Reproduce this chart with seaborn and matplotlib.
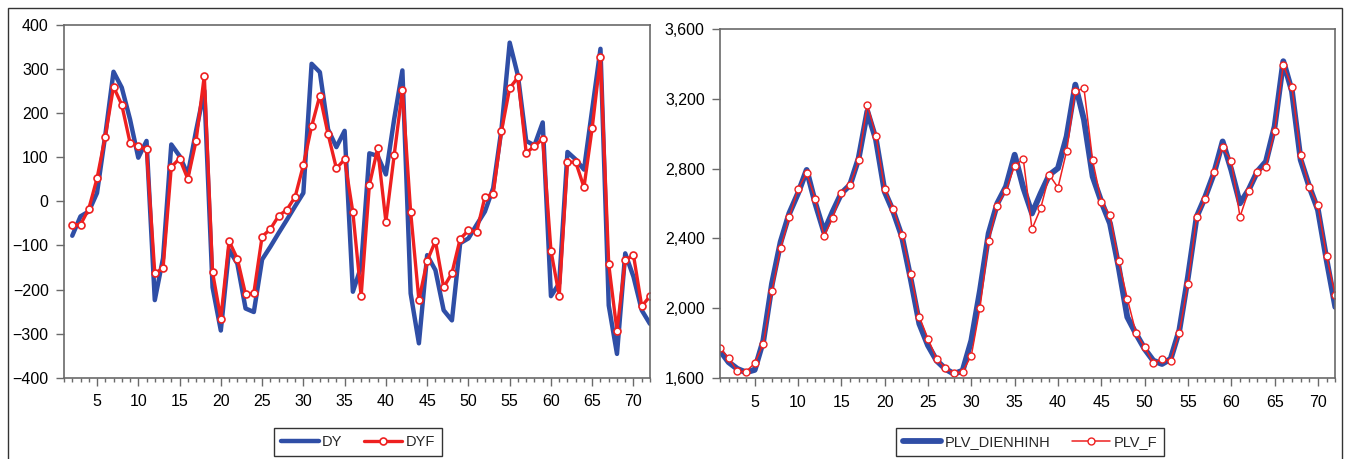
# Two-panel forecast comparison: DY vs DYF and PLV_DIENHINH vs PLV_F

import matplotlib
matplotlib.use("Agg")
import matplotlib.pyplot as plt
import matplotlib.ticker as mticker
from matplotlib.patches import Rectangle
import pandas as pd
import seaborn as sns

# Left panel data (observations 2..72)
obs_dy = list(range(2, 73))
dy = [-78, -34, -23, 19, 150, 294, 258, 186, 99, 137,
      -224, -129, 129, 103, 61, 160, 251, -195, -293, -110,
      -141, -243, -251, -132, -103, -72, -42, -11, 19, 312,
      293, 163, 123, 160, -205, -148, 109, 103, 61, 186,
      297, -209, -322, -122, -156, -247, -270, -95, -84, -53,
      -23, 30, 163, 360, 285, 137, 127, 179, -215, -186,
      112, 95, 72, 209, 346, -236, -346, -118, -171, -247,
      -278]
dyf = [-53, -53, -17, 52, 147, 260, 219, 133, 125, 118,
       -163, -152, 78, 97, 51, 137, 285, -161, -266, -90,
       -130, -211, -208, -80, -63, -33, -19, 10, 82, 170,
       240, 152, 75, 95, -25, -215, 37, 120, -46, 104,
       252, -24, -224, -135, -90, -195, -163, -85, -66, -69,
       10, 17, 159, 257, 281, 110, 125, 142, -112, -214,
       89, 89, 32, 167, 327, -143, -294, -133, -122, -238,
       -215]

# Right panel data (observations 1..72)
obs_plv = list(range(1, 73))
plv = [1759, 1692, 1654, 1634, 1648, 1816, 2142, 2381, 2544, 2658,
       2792, 2601, 2438, 2553, 2658, 2706, 2859, 3127, 2965, 2668,
       2553, 2410, 2170, 1912, 1788, 1701, 1654, 1625, 1644, 1816,
       2103, 2429, 2601, 2697, 2879, 2690, 2543, 2658, 2764, 2802,
       2984, 3280, 3079, 2754, 2611, 2486, 2237, 1950, 1855, 1768,
       1701, 1682, 1711, 1874, 2180, 2524, 2639, 2773, 2955, 2792,
       2601, 2678, 2783, 2840, 3041, 3414, 3242, 2850, 2697, 2563,
       2276, 2008]
plv_f = [1772, 1717, 1640, 1638, 1686, 1797, 2098, 2346, 2521, 2683,
         2773, 2626, 2413, 2517, 2662, 2706, 2846, 3166, 2988, 2683,
         2570, 2419, 2198, 1952, 1826, 1711, 1659, 1629, 1638, 1730,
         2004, 2385, 2588, 2674, 2817, 2854, 2454, 2572, 2764, 2691,
         2901, 3242, 3259, 2846, 2611, 2534, 2270, 2056, 1860, 1778,
         1688, 1711, 1700, 1862, 2142, 2524, 2624, 2779, 2921, 2844,
         2524, 2672, 2781, 2810, 3012, 3395, 3265, 2879, 2695, 2590,
         2297, 2075]

df_left = pd.DataFrame({"obs": obs_dy, "DY": dy, "DYF": dyf})
df_right = pd.DataFrame({"obs": obs_plv, "PLV_DIENHINH": plv, "PLV_F": plv_f})

BLUE = "#2f4ea6"
RED = "#ee2020"
GREY = "#6a6a6a"

sns.set_style("white")
plt.rcParams["font.family"] = ["Liberation Sans", "DejaVu Sans"]

W, H = 1346, 459
fig = plt.figure(figsize=(W / 100, H / 100), dpi=100)

ax1 = fig.add_axes([64 / W, 1 - 377.7 / H, 586 / W, 352.7 / H])
ax2 = fig.add_axes([720 / W, 1 - 378.3 / H, 615.3 / W, 349.6 / H])

sns.lineplot(data=df_left, x="obs", y="DY", ax=ax1, color=BLUE, lw=3.2,
             label="DY")
sns.lineplot(data=df_left, x="obs", y="DYF", ax=ax1, color=RED, lw=2.4,
             marker="o", markersize=5, markerfacecolor="white",
             markeredgecolor=RED, markeredgewidth=1.2, label="DYF")

sns.lineplot(data=df_right, x="obs", y="PLV_DIENHINH", ax=ax2, color=BLUE,
             lw=4.2, label="PLV_DIENHINH")
sns.lineplot(data=df_right, x="obs", y="PLV_F", ax=ax2, color=RED, lw=1.1,
             marker="o", markersize=5, markerfacecolor="white",
             markeredgecolor=RED, markeredgewidth=1.0, label="PLV_F")

ax1.set_ylim(-400, 400)
ax1.set_yticks(range(-400, 401, 100))
ax2.set_ylim(1600, 3600)
ax2.set_yticks(range(1600, 3601, 400))
ax2.yaxis.set_major_formatter(mticker.StrMethodFormatter("{x:,.0f}"))

for ax in (ax1, ax2):
    ax.set_xlim(1, 72)
    ax.xaxis.set_major_locator(mticker.MultipleLocator(5))
    ax.xaxis.set_minor_locator(mticker.MultipleLocator(1))
    ax.set_xticks(range(5, 71, 5))
    ax.set_xlabel("")
    ax.set_ylabel("")
    ax.get_legend().remove()
    for s in ax.spines.values():
        s.set_color(GREY)
        s.set_linewidth(1.2)
        s.set_visible(True)
    ax.tick_params(axis="both", which="major", direction="out", length=6,
                   width=1, color=GREY, labelsize=11.5, labelcolor="black")
    ax.tick_params(axis="y", pad=5, left=True)
    ax.tick_params(axis="x", which="major", pad=6, bottom=True)
    ax.tick_params(axis="x", which="minor", direction="out", length=3,
                   width=1, color=GREY, bottom=True)
    ax.grid(False)

h1, l1 = ax1.get_legend_handles_labels()
h2, l2 = ax2.get_legend_handles_labels()
for handles, labels, cx in ((h1, l1, 358 / W), (h2, l2, 1030 / W)):
    leg = fig.legend(handles, labels, loc="center", bbox_to_anchor=(cx, 1 - 442 / H),
                     ncol=2, frameon=True, fancybox=False, fontsize=10.5,
                     handlelength=2.6, columnspacing=1.5, handletextpad=0.25,
                     borderpad=0.45, borderaxespad=0.3)
    leg.get_frame().set_edgecolor("black")
    leg.get_frame().set_linewidth(1.0)

# outer frame around the whole graphic
fig.patches.append(Rectangle((8 / W, -0.02), 1334 / W, 1.02 - 8 / H,
                             transform=fig.transFigure, fill=False,
                             edgecolor="#333333", lw=1.0))

fig.savefig("out.png", dpi=100)
